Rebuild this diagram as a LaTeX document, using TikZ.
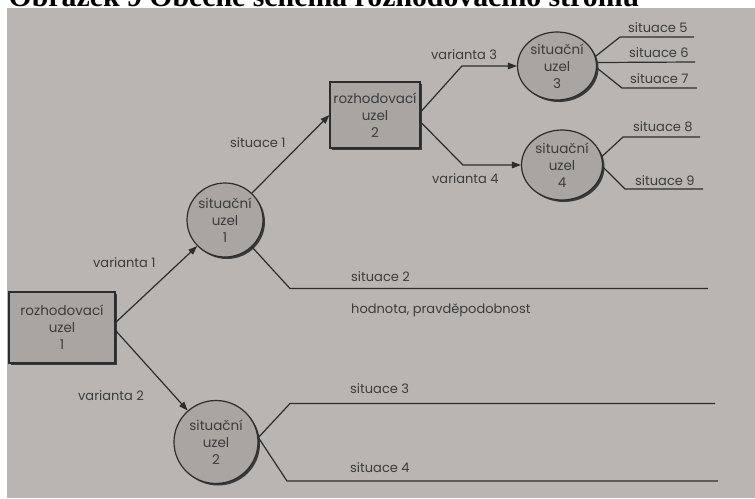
\documentclass[tikz,border=0pt]{standalone}
\usepackage{fontspec}
\setmainfont{Poppins}
\newfontfamily\capfont{Liberation Serif}
\usetikzlibrary{arrows.meta,shapes.geometric,shadows}

\definecolor{pagegrey}{RGB}{184,181,178}
\definecolor{nodegrey}{RGB}{168,165,162}
\definecolor{inkgrey}{RGB}{45,45,45}
\definecolor{textgrey}{RGB}{60,60,60}

\tikzset{
    nodetext/.style={font=\fontsize{13.5}{17}\selectfont, text=textgrey},
    labtext/.style={font=\fontsize{13}{16}\selectfont, text=textgrey},
    decision/.style={rectangle, draw=inkgrey, line width=1.2pt, fill=nodegrey,
        align=center, inner sep=0pt, nodetext,
        drop shadow={shadow xshift=2pt, shadow yshift=-2pt, fill=inkgrey, opacity=0.9}},
    chance/.style={ellipse, draw=inkgrey, line width=1.2pt, fill=nodegrey,
        align=center, inner sep=0pt, nodetext,
        drop shadow={shadow xshift=2pt, shadow yshift=-2pt, fill=inkgrey, opacity=0.9}},
    branch/.style={draw=inkgrey, line width=1.2pt},
    arr/.style={branch, -{Triangle[length=9pt,width=6.5pt]}},
    lab/.style={labtext, anchor=base west, inner sep=0pt},
}

\begin{document}
\begin{tikzpicture}[x=1pt,y=-1pt]
    \useasboundingbox (0,0) rectangle (755,498);
    \fill[white] (0,0) rectangle (755,498);
    \fill[pagegrey] (7,8) rectangle (755,498);
    \node[anchor=base west, inner sep=0pt, font=\capfont\bfseries\fontsize{29.8}{31}\selectfont] (caption) at (8.5,6.5) {Obrázek 9 Obecné schéma rozhodovacího stromu};

    % uzly
    \node[decision, minimum width=106pt, minimum height=71pt] (dec1) at (62,327.5) {rozhodovací\\uzel\\1};
    \node[decision, minimum width=90pt, minimum height=66pt] (dec2) at (375,115) {rozhodovací\\uzel\\2};
    \node[chance, minimum width=76pt, minimum height=74pt] (sit1) at (225,220) {situační\\uzel\\1};
    \node[chance, minimum width=84pt, minimum height=83pt] (sit2) at (216,442) {situační\\uzel\\2};
    \node[chance, minimum width=79pt, minimum height=68pt] (sit3) at (557,66) {situační\\uzel\\3};
    \node[chance, minimum width=81pt, minimum height=70pt] (sit4) at (562,165) {situační\\uzel\\4};

    % konce vetvi
    \coordinate (e2) at (708,288.5);
    \coordinate (e3) at (715,403.5);
    \coordinate (e4) at (718,481);
    \coordinate (e5) at (694,37);
    \coordinate (e6) at (695,62);
    \coordinate (e7) at (697,88);
    \coordinate (e8) at (700,137);
    \coordinate (e9) at (703,189);

    % varianty
    \draw[arr] ([yshift=5pt]dec1.east) -- (sit1);
    \draw[arr] ([yshift=-3pt]dec1.east) -- (sit2);
    \draw[arr] (sit1.45) -- (dec2.west);
    \draw[arr] ([yshift=3pt]dec2.east) -- ([xshift=-55pt]sit3.west) -- (sit3.west);
    \draw[arr] ([yshift=-7pt]dec2.east) -- ([xshift=-58pt]sit4.west) -- (sit4.west);

    % situace
    \draw[branch] (sit1.-45) -- ([xshift=-418pt]e2) -- (e2);
    \draw[branch] (sit2.6) -- ([xshift=-425pt]e3) -- (e3);
    \draw[branch] (sit2.6) -- ([xshift=-431pt]e4) -- (e4);
    \draw[branch] (sit3.14) -- ([xshift=-74pt]e5) -- (e5);
    \draw[branch] (sit3.5) -- (e6);
    \draw[branch] (sit3.-3) -- ([xshift=-75pt]e7) -- (e7);
    \draw[branch] (sit4.12) -- ([xshift=-77pt]e8) -- (e8);
    \draw[branch] (sit4.-3) -- ([xshift=-78pt]e9) -- (e9);

    % popisky
    \node[lab] (lv1) at (93,267) {varianta 1};
    \node[lab] (lv2) at (78,400) {varianta 2};
    \node[lab] (lv3) at (431,59) {varianta 3};
    \node[lab] (lv4) at (432,183) {varianta 4};
    \node[lab] (ls1) at (230,147) {situace 1};
    \node[lab] (ls2) at (351,281) {situace 2};
    \node[lab] (lhp) at (351,313) {hodnota, pravděpodobnost};
    \node[lab] (ls3) at (350,393) {situace 3};
    \node[lab] (ls4) at (350,472) {situace 4};
    \node[lab] (ls5) at (628,32) {situace 5};
    \node[lab] (ls6) at (629,57) {situace 6};
    \node[lab] (ls7) at (630,83) {situace 7};
    \node[lab] (ls8) at (633,131) {situace 8};
    \node[lab] (ls9) at (635,185) {situace 9};
\end{tikzpicture}
\end{document}
